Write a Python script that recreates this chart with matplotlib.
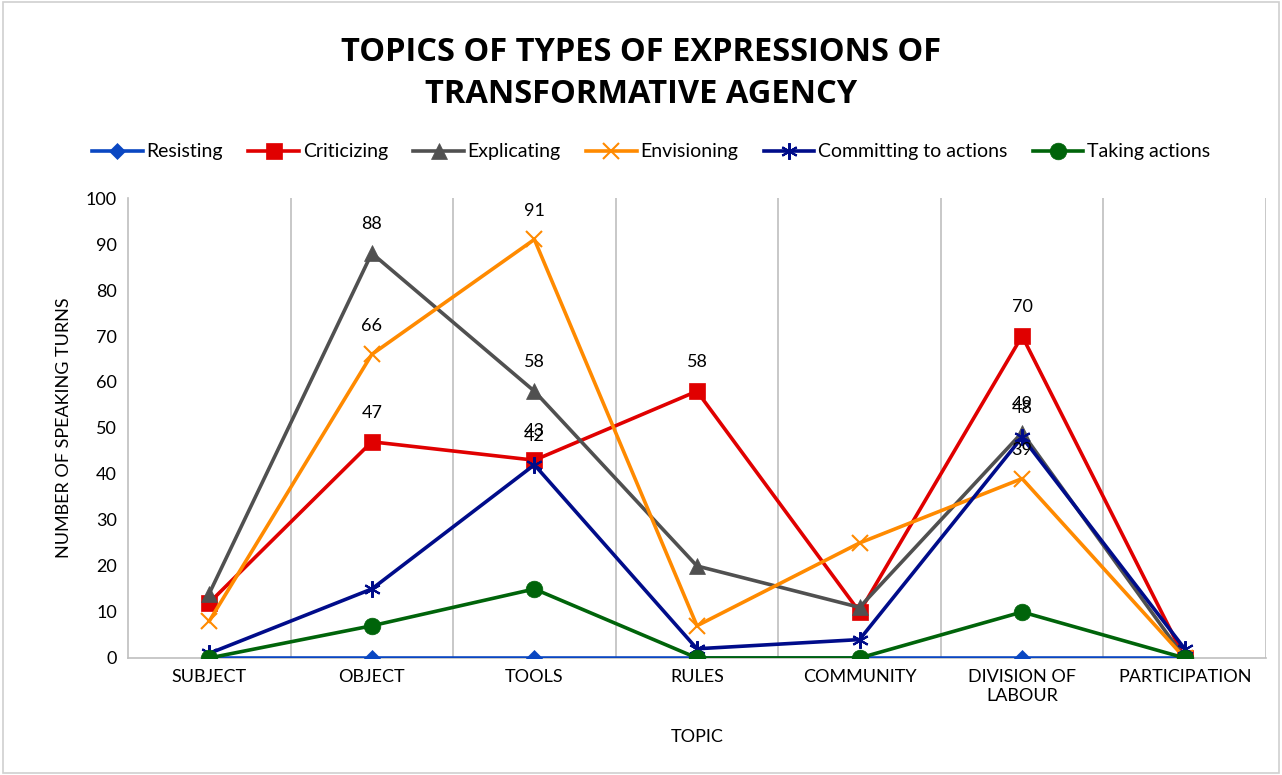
import matplotlib
matplotlib.use("Agg")
import matplotlib.pyplot as plt
from matplotlib.patches import Rectangle
import numpy as np

categories = ["SUBJECT", "OBJECT", "TOOLS", "RULES", "COMMUNITY", "DIVISION OF\nLABOUR", "PARTICIPATION"]
resisting = [0, 0, 0, 0, 0, 0, 0]
criticizing = [12, 47, 43, 58, 10, 70, 0]
explicating = [14, 88, 58, 20, 11, 49, 0]
envisioning = [8, 66, 91, 7, 25, 39, 0]
committing = [1, 15, 42, 2, 4, 48, 2]
taking = [0, 7, 15, 0, 0, 10, 0]

# data labels shown in the reference: (series, index)
labels_shown = {
    "Criticizing": [1, 2, 3, 5],
    "Explicating": [1, 2, 5],
    "Envisioning": [1, 2, 5],
    "Committing to actions": [2, 5],
}

plt.rcParams['font.family'] = ['Lato', 'DejaVu Sans']

fig = plt.figure(figsize=(12.82, 7.75), dpi=100)
ax = fig.add_axes([0.0998, 0.151, 0.8877, 0.5935])

x = np.arange(len(categories))
series = [
    ("Resisting", resisting, "#0A47C2", "D", 8, 0.5),
    ("Criticizing", criticizing, "#E00000", "s", 11, 0.5),
    ("Explicating", explicating, "#505050", "^", 11, 0.5),
    ("Envisioning", envisioning, "#FF8A00", "x", 11, 1.5),
    ("Committing to actions", committing, "#000C8A", (6, 2, 0), 12, 1.5),
    ("Taking actions", taking, "#00640A", "o", 12, 0.5),
]
for name, vals, col, mk, ms, mew in series:
    ax.plot(x, vals, color=col, lw=2.6, marker=mk, markersize=ms,
            markeredgewidth=mew, markeredgecolor=col, markerfacecolor=col,
            label=name, zorder=3)
    for i in labels_shown.get(name, []):
        ax.annotate(str(vals[i]), (x[i], vals[i]), xytext=(0, 15),
                    textcoords="offset points", ha="center", va="bottom",
                    fontsize=13, color="#000000", zorder=5)

ax.set_xlim(-0.5, len(categories) - 0.5)
ax.set_ylim(0, 100)
ax.set_yticks(np.arange(0, 101, 10))
ax.set_xticks(x)
ax.set_xticklabels(categories)
ax.tick_params(axis='y', length=0, labelsize=13, pad=8)
ax.tick_params(axis='x', length=0, labelsize=13, pad=8)
for b in np.arange(0.5, len(categories), 1.0):
    ax.axvline(b, color="#BFBFBF", lw=1.2, zorder=1)
for s in ["top", "right"]:
    ax.spines[s].set_visible(False)
ax.spines["left"].set_color("#BFBFBF")
ax.spines["bottom"].set_color("#BFBFBF")
ax.spines["left"].set_linewidth(1.2)
ax.spines["bottom"].set_linewidth(1.2)
ax.set_ylabel("NUMBER OF SPEAKING TURNS", fontsize=13, labelpad=10)
ax.set_xlabel("TOPIC", fontsize=13, labelpad=18)

fig.text(0.5, 0.905, "TOPICS OF TYPES OF EXPRESSIONS OF\nTRANSFORMATIVE AGENCY",
         ha="center", va="center", fontsize=23.5, fontweight="bold",
         family=["Open Sans", "DejaVu Sans"], linespacing=1.35)

fig.legend(loc="center", bbox_to_anchor=(0.508, 0.804), ncol=6, frameon=False,
           fontsize=14, handlelength=2.6, handletextpad=0.2, columnspacing=1.3)

fig.patches.append(Rectangle((0.002, 0.003), 0.996, 0.994, transform=fig.transFigure,
                             fill=False, edgecolor="#D0D0D0", lw=1.2))

fig.savefig("out.png", dpi=100)
